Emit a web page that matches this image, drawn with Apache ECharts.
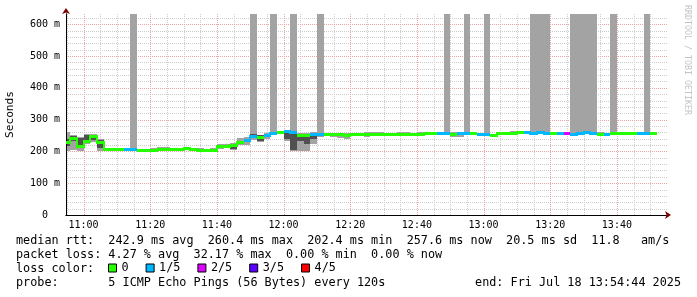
<!DOCTYPE html>
<html><head><meta charset="utf-8">
<script src="https://cdn.jsdelivr.net/npm/echarts@6/dist/echarts.min.js"></script>
<style>html,body{margin:0;padding:0;background:#fff}#c{width:697px;height:297px}</style>
</head><body><div id="c"></div>
<script>
// time in minutes since 10:00
const START_MIN = 54;          // first step starts 10:54
const STEP_MIN = 2;            // 120 s steps
const X_MIN = 54 + 44 / 60;    // 10:54:44
const X_MAX = 234 + 44 / 60;   // 13:54:44
const Y_MAX = 632;

const xTickLabels = ['11:00','11:20','11:40','12:00','12:20','12:40','13:00','13:20','13:40'];
const yTickLabels = ['0','100 m','200 m','300 m','400 m','500 m','600 m'];
const yTickValues = [0,100,200,300,400,500,600];

const lossNames  = ['0','1/5','2/5','3/5','4/5'];
const lossColors = ['#26ff00','#00b8ff','#dd00ff','#5e00ff','#ff0000'];

// median rtt per step (ms)
const median = [228,243,216,232,249,229,208,208,207,207, 208,204,203,205,207,208,206,206,211,209,
  204,204,205,216,216,220,229,237,249,245, 253,258,261,263,260,253,250,255,254,254,
  254,254,253,255,254,254,255,255,254,254, 256,256,255,256,257,258,257,258,256,257,
  258,257,254,254,253,258,258,259,262,260, 259,261,258,258,259,257,255,258,260,258,
  256,254,257,258,258,258,259,258,259];
// lost pings per step (of 5)
const loss = [0,0,0,0,0,0,0,0,0,1, 1,0,0,0,0,0,0,0,0,0, 0,0,0,0,0,0,0,1,1,0,
  1,1,0,1,1,0,0,1,1,0, 0,0,0,0,0,0,0,0,0,0, 0,0,0,0,0,0,1,1,0,1,
  1,0,1,1,0,0,0,0,0,1, 1,1,1,0,1,2,1,1,1,1, 0,1,0,0,0,0,1,1,0];
// smoke: outer band (min..max) and inner band (lo..hi)
const smokeMin = [200,205,202,222,228,200,205,205,204,204, 205,202,202,203,204,205,203,204,208,206,
  201,201,202,209,210,205,219,220,235,228, 240,250,255,233,202,202,202,222,245,250,
  244,243,240,250,251,245,251,252,252,252, 252,250,247,252,254,255,254,254,245,245,
  254,254,251,251,250,255,255,256,258,257, 256,257,250,255,256,254,252,254,256,254,
  252,250,254,255,255,255,256,255,256];
const smokeLo = [218,232,212,228,236,212,206,206,205,205, 206,203,203,204,205,206,204,205,209,207,
  202,202,203,211,212,208,224,228,242,232, 246,254,258,240,204,234,222,240,250,252,
  250,248,246,252,253,250,253,253,253,253, 254,253,250,254,255,256,255,256,250,250,
  256,255,252,252,251,256,256,257,260,258, 257,259,252,256,257,255,253,256,258,256,
  254,252,255,256,256,256,257,256,257];
const smokeHi = [240,248,242,252,252,236,209,209,208,208, 209,205,205,206,212,210,208,207,212,210,
  209,208,209,220,220,222,234,240,254,250, 256,260,262,262,258,256,256,258,256,256,
  256,256,255,257,256,257,258,259,256,256, 259,259,257,259,259,260,259,260,258,259,
  260,259,256,256,255,260,260,261,263,261, 261,262,260,260,261,259,258,260,262,260,
  258,256,259,260,260,260,261,260,261];
const smokeMax = [262,253,244,254,256,240,210,210,209,209, 632,206,206,211,213,213,209,208,213,211,
  210,209,210,222,222,226,242,245,632,252, 258,632,264,265,632,258,258,260,632,258,
  258,257,257,258,258,260,260,262,257,257, 261,260,259,261,260,261,260,632,260,260,
  632,260,257,632,256,262,262,263,264,262, 632,632,632,261,262,260,632,632,632,632,
  260,258,632,261,261,261,262,632,262];

const statsLine1 = 'median rtt:  242.9 ms avg  260.4 ms max  202.4 ms min  257.6 ms now  20.5 ms sd  11.8   am/s';
const statsLine2 = 'packet loss: 4.27 % avg  32.17 % max  0.00 % min  0.00 % now';
const probeLine  = 'probe:       5 ICMP Echo Pings (56 Bytes) every 120s';
const endLine    = 'end: Fri Jul 18 13:54:44 2025';

const MONO = '"DejaVu Sans Mono", monospace';
const xTickValues = xTickLabels.map(s => { const p = s.split(':').map(Number); return (p[0] - 10) * 60 + p[1]; });

// grid line positions
const gridMinor = [], gridMajor = [];
for (let v = 55; v <= 230; v += 5) (v % 20 === 0 ? gridMajor : gridMinor).push([v, 0]);
for (let v = 20; v <= 620; v += 20) (v % 100 === 0 ? gridMajor : gridMinor).push([v, 1]);

function renderGrid(color) {
  return function (params, api) {
    const v = api.value(0), o = api.value(1);
    let shape;
    if (o === 0) {
      const x = Math.round(api.coord([v, 0])[0]) + 0.5;
      shape = { x1: x, y1: api.coord([v, 0])[1], x2: x, y2: api.coord([v, Y_MAX])[1] };
    } else {
      const y = Math.round(api.coord([X_MIN, v])[1]) + 0.5;
      shape = { x1: api.coord([X_MIN, v])[0], y1: y, x2: api.coord([X_MAX, v])[0] + 2, y2: y };
    }
    return { type: 'line', shape, style: { stroke: color, lineWidth: 1, lineDash: [1, 1] } };
  };
}

const smokeData = median.map((m, k) => [START_MIN + k * STEP_MIN, START_MIN + (k + 1) * STEP_MIN,
  smokeMin[k], smokeLo[k], smokeHi[k], smokeMax[k]]);

function renderSmoke(params, api) {
  const t0 = api.value(0), t1 = api.value(1);
  const a = api.coord([t0, api.value(5)]), b = api.coord([t1, api.value(2)]);
  const c = api.coord([t0, api.value(4)]), d = api.coord([t1, api.value(3)]);
  const x0 = Math.round(a[0]), x1 = Math.round(b[0]);
  return { type: 'group', children: [
    { type: 'rect', shape: { x: x0, y: Math.round(a[1]), width: x1 - x0, height: Math.round(b[1]) - Math.round(a[1]) }, style: { fill: '#a3a3a3' } },
    { type: 'rect', shape: { x: x0, y: Math.round(c[1]), width: x1 - x0, height: Math.max(1, Math.round(d[1]) - Math.round(c[1])) }, style: { fill: '#505050' } }
  ]};
}

function medianSeries(L) {
  const data = [];
  median.forEach((m, k) => { if (loss[k] === L) data.push([START_MIN + k * STEP_MIN, START_MIN + (k + 1) * STEP_MIN, m, k]); });
  return {
    type: 'custom', name: lossNames[L], coordinateSystem: 'cartesian2d', clip: true, z: 5,
    itemStyle: { color: lossColors[L] },
    data,
    renderItem: function (params, api) {
      const k = api.value(3);
      const p0 = api.coord([api.value(0), api.value(2)]), p1 = api.coord([api.value(1), api.value(2)]);
      const x0 = Math.round(p0[0]), x1 = Math.round(p1[0]), y = Math.round(p0[1]);
      const ch = [{ type: 'rect', shape: { x: x0, y: y - 1, width: x1 - x0, height: 3 }, style: { fill: lossColors[L] } }];
      if (k > 0 && loss[k - 1] === L) {
        const py = Math.round(api.coord([api.value(0), median[k - 1]])[1]);
        ch.push({ type: 'rect', shape: { x: x0 - 1, y: Math.min(py, y) - 1, width: 2, height: Math.abs(py - y) + 3 }, style: { fill: lossColors[L] } });
      }
      return { type: 'group', children: ch };
    }
  };
}

const chart = echarts.init(document.getElementById('c'), null, { renderer: 'canvas' });
chart.setOption({
  animation: false,
  backgroundColor: '#ffffff',
  grid: { left: 66, right: 31, top: 14, bottom: 82, containLabel: false, outerBoundsMode: 'none' },
  xAxis: [{
    type: 'value', min: X_MIN, max: X_MAX, position: 'bottom', z: 3,
    axisLine: { show: true, lineStyle: { color: '#000', width: 1 } },
    axisTick: { show: false }, splitLine: { show: false },
    axisLabel: { customValues: xTickValues, formatter: v => xTickLabels[xTickValues.indexOf(Math.round(v))] || '',
      fontFamily: MONO, fontSize: 10, color: '#000', margin: 5 }
  }, {
    type: 'value', min: X_MIN, max: X_MAX, position: 'bottom', z: 2,
    axisLine: { show: true, symbol: ['none', 'arrow'], symbolSize: [6, 6], symbolOffset: [0, 5], lineStyle: { color: '#7a0000', width: 1 } },
    axisTick: { show: false }, splitLine: { show: false }, axisLabel: { show: false }
  }],
  yAxis: [{
    type: 'value', min: 0, max: Y_MAX, position: 'left', z: 3,
    name: 'Seconds', nameLocation: 'middle', nameRotate: 90, nameGap: 50,
    nameTextStyle: { fontFamily: MONO, fontSize: 11.2, color: '#000' },
    axisLine: { show: true, lineStyle: { color: '#000', width: 1 } },
    axisTick: { show: false }, splitLine: { show: false },
    axisLabel: { customValues: yTickValues, formatter: v => { const i = yTickValues.indexOf(Math.round(v)); return i === 0 ? yTickLabels[0] + '  ' : (yTickLabels[i] || ''); },
      fontFamily: MONO, fontSize: 10, color: '#000', margin: 6 }
  }, {
    type: 'value', min: 0, max: Y_MAX, position: 'left', z: 2,
    axisLine: { show: true, symbol: ['none', 'arrow'], symbolSize: [6, 6], symbolOffset: [0, 6], lineStyle: { color: '#7a0000', width: 1 } },
    axisTick: { show: false }, splitLine: { show: false }, axisLabel: { show: false }
  }],
  legend: {
    left: 108, top: 262, padding: 0, itemWidth: 8, itemHeight: 8, itemGap: 17, icon: 'rect', selectedMode: false,
    data: lossNames,
    textStyle: { fontFamily: MONO, fontSize: 11.8, color: '#000' },
    itemStyle: { borderColor: '#000', borderWidth: 1 }
  },
  series: [
    { type: 'custom', name: 'gridMinor', coordinateSystem: 'cartesian2d', silent: true, z: 1, clip: false, data: gridMinor, renderItem: renderGrid('#cdcdcd') },
    { type: 'custom', name: 'gridMajor', coordinateSystem: 'cartesian2d', silent: true, z: 1, clip: false, data: gridMajor, renderItem: renderGrid('#eca3a3') },
    { type: 'custom', name: 'smoke', coordinateSystem: 'cartesian2d', silent: true, z: 2, clip: true, data: smokeData, renderItem: renderSmoke },
    medianSeries(0), medianSeries(1), medianSeries(2), medianSeries(3), medianSeries(4)
  ],
  graphic: [
    { type: 'text', x: 16, y: 241, style: { text: statsLine1, font: '11.8px ' + MONO, fill: '#000', verticalAlign: 'middle' } },
    { type: 'text', x: 16, y: 255, style: { text: statsLine2, font: '11.8px ' + MONO, fill: '#000', verticalAlign: 'middle' } },
    { type: 'text', x: 16, y: 269, style: { text: 'loss color:', font: '11.8px ' + MONO, fill: '#000', verticalAlign: 'middle' } },
    { type: 'text', x: 16, y: 283, style: { text: probeLine, font: '11.8px ' + MONO, fill: '#000', verticalAlign: 'middle' } },
    { type: 'text', x: 681, y: 283, style: { text: endLine, font: '11.8px ' + MONO, fill: '#000', align: 'right', verticalAlign: 'middle' } },
    { type: 'text', x: 687, y: 5, rotation: -Math.PI / 2, style: { text: 'RRDTOOL / TOBI OETIKER', font: '8.3px ' + MONO, fill: '#c4c4c4', align: 'left', verticalAlign: 'middle' } }
  ]
});
</script></body></html>
